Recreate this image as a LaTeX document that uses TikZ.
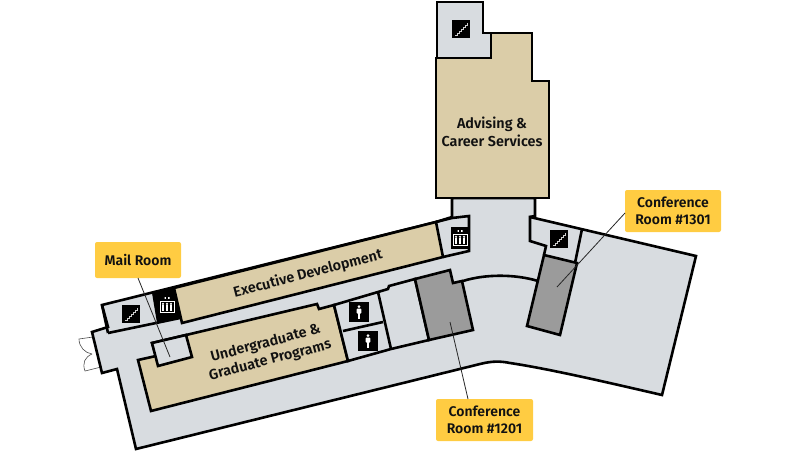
\documentclass[tikz,border=0pt]{standalone}
\usepackage{fontspec}
\setmainfont{Fira Sans}[UprightFont=* Medium,BoldFont=* SemiBold]
\definecolor{floorgrey}{HTML}{D8DCE0}
\definecolor{tanroom}{HTML}{DBCDA8}
\definecolor{confgrey}{HTML}{9B9B9B}
\definecolor{tagyellow}{HTML}{FFCC42}
\definecolor{inktext}{HTML}{111111}
\tikzset{
  wall/.style={draw=black,line width=2.6pt,line join=miter,miter limit=3},
  tan/.style={wall,fill=tanroom},
  conf/.style={wall,fill=confgrey},
  plain/.style={wall,fill=floorgrey},
  doorline/.style={draw=black!70,line width=0.6pt},
  leader/.style={draw=black!85,line width=0.8pt},
  tag/.style={fill=tagyellow,rounded corners=2pt,align=center,text=inktext,font=\bfseries\fontsize{14}{17}\selectfont,inner sep=0pt},
  roomlabel/.style={align=center,text=inktext,font=\bfseries\fontsize{14.4}{17.5}\selectfont,inner sep=0pt},
}
\newcommand{\stairicon}[1]{%
  \begin{scope}[shift={#1}]
    \fill[black] (-9,-9) rectangle (9,9);
    \draw[white!80!black,line width=0.9pt] (-6,6) -- (-4,6) -- (-4,4) -- (-2,4) -- (-2,2) -- (0,2) -- (0,0) -- (2,0) -- (2,-2) -- (4,-2) -- (4,-4) -- (6,-4) -- (6,-6);
  \end{scope}}
\newcommand{\persicon}[1]{%
  \begin{scope}[shift={#1}]
    \fill[black] (-10,-10) rectangle (10,10);
    \fill[white] (0,-5.4) circle (1.5);
    \fill[white,rounded corners=0.8pt] (-2.3,-3.4) rectangle (2.3,1.5);
    \fill[white] (-1.4,1) rectangle (1.4,7);
  \end{scope}}
\newcommand{\elevglyph}[1]{%
  \begin{scope}[shift={#1}]
    \fill[white] (-7.5,-4) rectangle (7.5,8);
    \fill[white] (-2.5,-8) rectangle (-1.2,-6.2) (1.2,-8) rectangle (2.5,-6.2);
    \fill[black] (-6.5,-3) rectangle (6.5,7);
    \foreach \px in {-4,0,4}{
      \fill[white] (\px,-1.2) circle (1.2);
      \fill[white] (\px-1.4,0) rectangle (\px+1.4,5.5);
    }
  \end{scope}}
\begin{document}
\begin{tikzpicture}[x=1pt,y=-1pt]
\useasboundingbox (0,0) rectangle (800,450);
% doors
\draw[doorline] (93,337) -- (79,339) .. controls (79,347) and (85,353) .. (92,354);
\draw[doorline] (101,367) -- (85,371) .. controls (82,363) and (85,357) .. (92,354);
% main floor
\path[plain] (92,332) -- (108,327) -- (102,305) -- (436,222) -- (452,217) -- (452,198) -- (535,198) -- (535,216) -- (530,217) -- (696,256) -- (662,395)
  .. controls (610,383) and (550,369) .. (510,363) .. controls (500,361) and (492,361) .. (480,364)
  -- (136,449) -- (117,369) -- (102,373) -- cycle;
% corridor curve
\draw[wall] (463,281) .. controls (485,274) and (515,274) .. (538,281);
% wing walls
\draw[wall] (108,333) -- (180,318);
\draw[wall] (102,305) -- (108,333);
% executive elevator block
\path[fill=black] (152,293) -- (174,288) -- (180,318) -- (157,323) -- cycle;
\path[tan] (174,288) -- (436,222) -- (443,257) -- (182,323) -- cycle;
\draw[wall] (436,222) -- (452,218) -- (469,216) -- (469,251) -- (443,257);
% stair room by 1301
\draw[wall] (535,217) -- (530,217) -- (530,241) -- (546,246) -- (544,255);
\draw[wall] (582,229) -- (575,263);
% undergraduate
\path[tan] (138,360) -- (156,356) -- (152,343) -- (186,335) -- (317,304) -- (319,309) -- (334,305) -- (348,361) -- (151,411) -- cycle;
\path[plain] (152,343) -- (186,335) -- (192,357) -- (158,366) -- cycle;
% rooms
\path[plain] (334,305) -- (378,292) -- (388,289) -- (389,286) -- (415,279) -- (429,340) -- (391,349) -- (348,361) -- cycle;
\draw[wall] (378,292) -- (391,349);
\draw[wall] (343,331) -- (383,322);
\path[conf] (415,279) -- (450,270) -- (453,283) -- (462,281) -- (473,330) -- (429,340) -- cycle;
\path[conf] (544,255) -- (577,263) -- (560,335) -- (527,326) -- cycle;
% stair + advising
\path[tan] (436,198) -- (436,58) -- (491,58) -- (491,33) -- (532,33) -- (532,81) -- (549,81) -- (549,198) -- cycle;
\path[plain] (437,2) -- (483,2) -- (483,33) -- (491,33) -- (491,58) -- (437,58) -- cycle;
% icons
\stairicon{(131,314)}
\stairicon{(461,29)}
\stairicon{(559,239)}
\fill[black] (451,227) rectangle (470,249);
\elevglyph{(460,238)}
\elevglyph{(167,305)}
\persicon{(359,312)}
\persicon{(368,341)}
% labels
\node[roomlabel] (adv) at (492,132) {Advising \&\\Career Services};
\node[roomlabel,rotate=14.7] (exec) at (308,274) {Executive Development};
\node[roomlabel,rotate=14.7] (ugrad) at (268,352) {Undergraduate \&\\Graduate Programs};
\node[tag,minimum width=86pt,minimum height=36pt] (mail) at (138,260) {Mail Room};
\node[tag,minimum width=96pt,minimum height=42pt] (c1301) at (673,211) {Conference\\Room \#1301};
\node[tag,minimum width=97pt,minimum height=42pt] (c1201) at (484.5,420) {Conference\\Room \#1201};
\coordinate (mailpt) at (170,357);
\coordinate (pa) at (450,322);
\coordinate (pb) at (557,287);
\draw[leader] (138,278) -- (mailpt);
\draw[leader] (468,399) -- (pa);
\draw[leader] (625,213) -- (pb);
\end{tikzpicture}
\end{document}
